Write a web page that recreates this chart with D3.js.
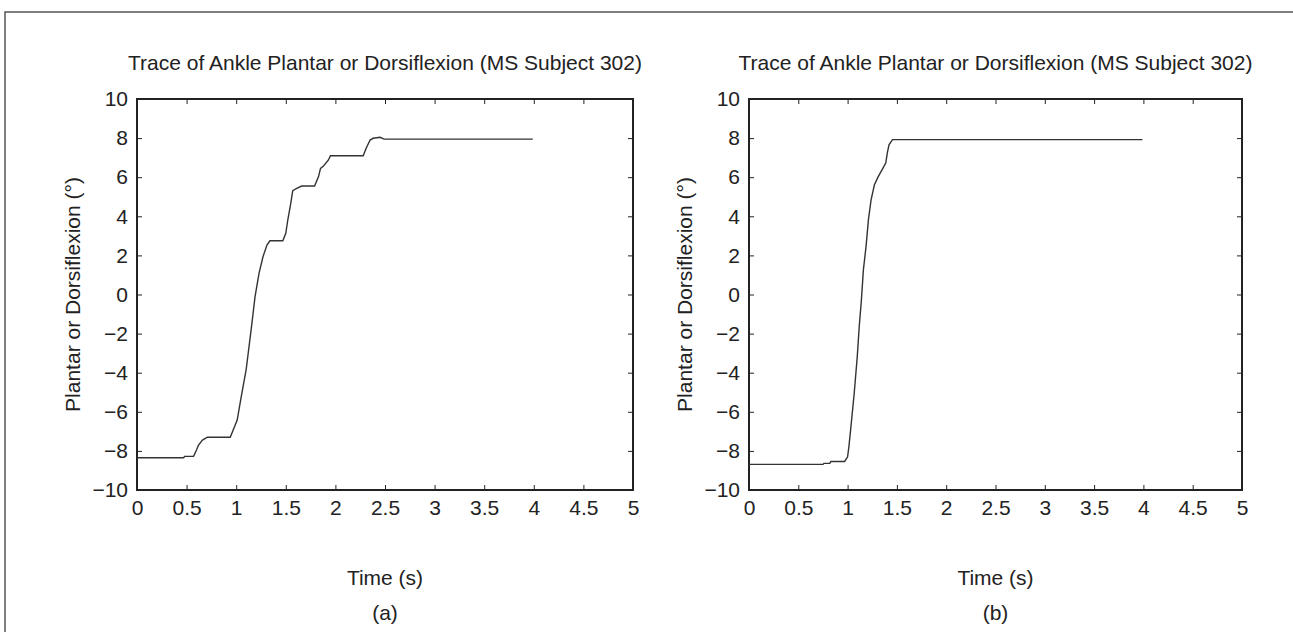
<!DOCTYPE html>
<html>
<head>
<meta charset="utf-8">
<script src="https://cdn.jsdelivr.net/npm/d3@7"></script>
<style>
  html, body { margin: 0; padding: 0; background: #fff; }
  svg { display: block; font-family: "Liberation Sans", Arial, sans-serif; }
</style>
</head>
<body>
<script>
// values
const timesA = [0, 0.47, 0.48, 0.57, 0.60, 0.62, 0.66, 0.71, 0.94, 1.01, 1.05, 1.10, 1.15, 1.19, 1.23, 1.27, 1.31, 1.34, 1.47, 1.50, 1.52, 1.55, 1.57, 1.61, 1.66, 1.79, 1.83, 1.85, 1.88, 1.93, 1.95, 2.28, 2.31, 2.35, 2.38, 2.45, 2.49, 3.99];
const valuesA = [-8.35, -8.35, -8.28, -8.28, -7.95, -7.7, -7.45, -7.3, -7.3, -6.42, -5.25, -3.86, -1.82, -0.11, 1.08, 1.93, 2.53, 2.75, 2.75, 3.13, 3.81, 4.66, 5.31, 5.43, 5.55, 5.55, 6.03, 6.45, 6.57, 6.88, 7.1, 7.1, 7.48, 7.9, 7.99, 8.04, 7.95, 7.95];

const timesB = [0, 0.75, 0.76, 0.82, 0.83, 0.97, 1.00, 1.013, 1.034, 1.067, 1.098, 1.118, 1.14, 1.16, 1.187, 1.211, 1.238, 1.272, 1.312, 1.353, 1.387, 1.403, 1.42, 1.455, 3.99];
const valuesB = [-8.69, -8.69, -8.64, -8.64, -8.54, -8.54, -8.3, -7.79, -6.76, -5.05, -3.18, -1.64, -0.28, 1.26, 2.45, 3.82, 4.84, 5.61, 6.04, 6.41, 6.72, 7.24, 7.66, 7.92, 7.92];

const xTicks = [0, 0.5, 1, 1.5, 2, 2.5, 3, 3.5, 4, 4.5, 5];
const yTicks = [-10, -8, -6, -4, -2, 0, 2, 4, 6, 8, 10];

const titleText = 'Trace of Ankle Plantar or Dorsiflexion (MS Subject 302)';
const xLabel = 'Time (s)';
const yLabel = 'Plantar or Dorsiflexion (\u00b0)';

const width = 1293,
      height = 632,
      fontSize = 21;

const svg = d3.select('body')
              .append('svg')
              .attr('width', width)
              .attr('height', height);

// outer figure frame (left + top edges)
svg.append('path')
   .attr('d', 'M5,' + height + ' L5,12 L' + width + ',12')
   .attr('fill', 'none')
   .attr('stroke', '#555')
   .attr('stroke-width', 1.5);

const fmt = (d) => (d < 0 ? '\u2212' + Math.abs(d) : String(d));

function drawPanel(left, right, times, values, tag) {
  const top = 99, bottom = 490;

  const xScale = d3.scaleLinear().domain([0, 5]).range([left, right]),
        yScale = d3.scaleLinear().domain([-10, 10]).range([bottom, top]);

  const g = svg.append('g');

  // inward ticks on all four sides, like a matlab box
  const tickLen = 5;
  const axisStyle = (sel) => {
    sel.attr('font-size', fontSize).attr('font-family', '"Liberation Sans", Arial, sans-serif');
    sel.select('.domain').remove();
    sel.selectAll('line').attr('stroke', '#222').attr('stroke-width', 1);
    sel.selectAll('text').attr('fill', '#222');
  };

  g.append('g')
   .attr('transform', 'translate(0,' + bottom + ')')
   .call(d3.axisBottom(xScale).tickValues(xTicks).tickSize(-tickLen).tickPadding(10).tickFormat(fmt))
   .call(axisStyle);

  g.append('g')
   .attr('transform', 'translate(0,' + top + ')')
   .call(d3.axisTop(xScale).tickValues(xTicks).tickSize(-tickLen).tickFormat(''))
   .call(axisStyle);

  g.append('g')
   .attr('transform', 'translate(' + left + ',0)')
   .call(d3.axisLeft(yScale).tickValues(yTicks).tickSize(-tickLen).tickPadding(9).tickFormat(fmt))
   .call(axisStyle);

  g.append('g')
   .attr('transform', 'translate(' + right + ',0)')
   .call(d3.axisRight(yScale).tickValues(yTicks).tickSize(-tickLen).tickFormat(''))
   .call(axisStyle);

  // box
  g.append('rect')
   .attr('x', left)
   .attr('y', top)
   .attr('width', right - left)
   .attr('height', bottom - top)
   .attr('fill', 'none')
   .attr('stroke', '#222')
   .attr('stroke-width', 2);

  const line = d3.line()
                 .x((d, i) => xScale(times[i]))
                 .y((d) => yScale(d));

  g.append('path')
   .datum(values)
   .attr('d', line)
   .attr('fill', 'none')
   .attr('stroke', '#333')
   .attr('stroke-width', 1.4);

  const cx = (left + right) / 2;

  g.append('text')
   .attr('x', cx)
   .attr('y', 70)
   .attr('text-anchor', 'middle')
   .attr('font-size', fontSize)
   .attr('fill', '#222')
   .text(titleText);

  g.append('text')
   .attr('x', cx)
   .attr('y', 585)
   .attr('text-anchor', 'middle')
   .attr('font-size', fontSize)
   .attr('fill', '#222')
   .text(xLabel);

  g.append('text')
   .attr('x', cx)
   .attr('y', 620)
   .attr('text-anchor', 'middle')
   .attr('font-size', fontSize)
   .attr('fill', '#222')
   .text(tag);

  g.append('text')
   .attr('transform', 'translate(' + (left - 57) + ',' + (top + bottom) / 2 + ') rotate(-90)')
   .attr('text-anchor', 'middle')
   .attr('font-size', fontSize)
   .attr('fill', '#222')
   .text(yLabel);
}

drawPanel(137, 633, timesA, valuesA, '(a)');
drawPanel(749, 1242, timesB, valuesB, '(b)');
</script>
</body>
</html>
